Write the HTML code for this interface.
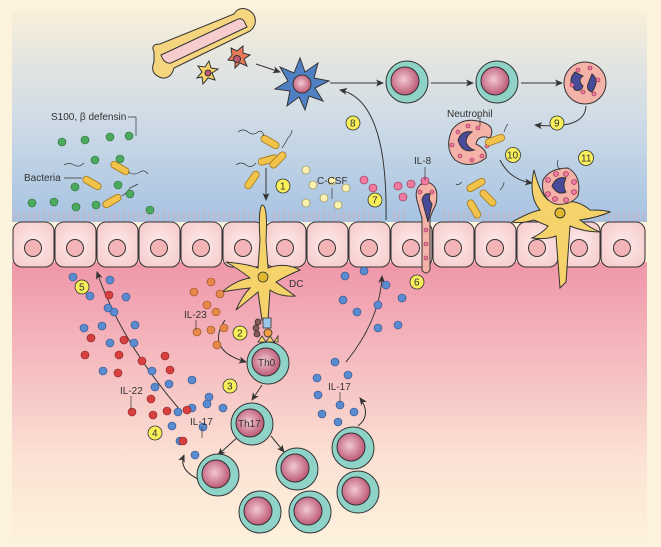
<!DOCTYPE html>
<html><head><meta charset="utf-8"><style>
html,body{margin:0;padding:0;background:#fdf3dc}
svg{display:block}
text{font-family:"Liberation Sans",Arial,sans-serif;font-size:10px;fill:#333}
</style></head><body>
<svg width="661" height="547" viewBox="0 0 661 547" xmlns="http://www.w3.org/2000/svg">
<defs>
<linearGradient id="top" x1="0" y1="0" x2="0" y2="1">
<stop offset="0" stop-color="#f9efd8"/><stop offset="0.2" stop-color="#e6e6e0"/><stop offset="0.5" stop-color="#d0dce6"/><stop offset="1" stop-color="#a6c3e2"/></linearGradient>
<linearGradient id="bot" x1="0" y1="0" x2="0" y2="1">
<stop offset="0" stop-color="#ef96a8"/><stop offset="0.35" stop-color="#f5bcc0"/><stop offset="0.7" stop-color="#fbe2d4"/><stop offset="1" stop-color="#fdf3dc"/></linearGradient>
<radialGradient id="nuc" cx="0.45" cy="0.45" r="0.6"><stop offset="0" stop-color="#f2c8d4"/><stop offset="1" stop-color="#b8506e"/></radialGradient>
<radialGradient id="cellg" cx="0.5" cy="0.5" r="0.6"><stop offset="0" stop-color="#fdeceb"/><stop offset="1" stop-color="#f6cccc"/></radialGradient>
<marker id="ar" markerWidth="8" markerHeight="8" refX="7" refY="4" orient="auto" markerUnits="userSpaceOnUse"><path d="M0,0.5 L8,4 L0,7.5 L2,4Z" fill="#333"/></marker>
<g id="tc"><circle r="21" fill="#8fd3c8" stroke="#333" stroke-width="1"/><circle cx="-2" cy="-1" r="14" fill="url(#nuc)" stroke="#333" stroke-width="1"/></g>
<g id="bac"><rect x="-10" y="-3.5" width="20" height="7" rx="3.5" fill="#f2c34a" stroke="#a07820" stroke-width="0.8"/></g>
</defs>
<rect width="661" height="547" fill="#fdf3dc"/>
<rect x="12" y="12" width="635" height="210" fill="url(#top)"/>
<rect x="12" y="262" width="635" height="285" fill="url(#bot)"/>
<g stroke="#d9a6b0" stroke-width="0.7">
<path d="M14 222V210 M19 222V212 M24 222V210 M29 222V212 M34 222V210 M39 222V212 M44 222V210 M49 222V212 M54 222V210 M59 222V212 M64 222V210 M69 222V212 M74 222V210 M79 222V212 M84 222V210 M89 222V212 M94 222V210 M99 222V212 M104 222V210 M109 222V212 M114 222V210 M119 222V212 M124 222V210 M129 222V212 M134 222V210 M139 222V212 M144 222V210 M149 222V212 M154 222V210 M159 222V212 M164 222V210 M169 222V212 M174 222V210 M179 222V212 M184 222V210 M189 222V212 M194 222V210 M199 222V212 M204 222V210 M209 222V212 M214 222V210 M219 222V212 M224 222V210 M229 222V212 M234 222V210 M239 222V212 M244 222V210 M249 222V212 M254 222V210 M259 222V212 M274 222V210 M279 222V212 M284 222V210 M289 222V212 M294 222V210 M299 222V212 M304 222V210 M309 222V212 M314 222V210 M319 222V212 M324 222V210 M329 222V212 M334 222V210 M339 222V212 M344 222V210 M349 222V212 M354 222V210 M359 222V212 M364 222V210 M369 222V212 M374 222V210 M379 222V212 M394 222V210 M399 222V212 M404 222V210 M444 222V210 M449 222V212 M454 222V210 M459 222V212 M464 222V210 M469 222V212 M474 222V210 M479 222V212 M484 222V210 M489 222V212 M494 222V210 M499 222V212 M504 222V210 M509 222V212 M514 222V210 M519 222V212 M524 222V210 M529 222V212 M534 222V210 M589 222V210 M594 222V212 M599 222V210 M604 222V212 M609 222V210 M614 222V212 M619 222V210 M624 222V212 M629 222V210 M634 222V212 M639 222V210 M644 222V212"/>
</g>
<g stroke="#333" stroke-width="1">
<g fill="url(#cellg)">
<rect x="13" y="222" width="41" height="45" rx="9"/><rect x="55" y="222" width="41" height="45" rx="9"/><rect x="97" y="222" width="41" height="45" rx="9"/><rect x="139" y="222" width="41" height="45" rx="9"/><rect x="181" y="222" width="41" height="45" rx="9"/><rect x="223" y="222" width="41" height="45" rx="9"/><rect x="265" y="222" width="41" height="45" rx="9"/><rect x="307" y="222" width="41" height="45" rx="9"/><rect x="349" y="222" width="41" height="45" rx="9"/><rect x="391" y="222" width="41" height="45" rx="9"/><rect x="433" y="222" width="41" height="45" rx="9"/><rect x="475" y="222" width="41" height="45" rx="9"/><rect x="517" y="222" width="41" height="45" rx="9"/><rect x="559" y="222" width="41" height="45" rx="9"/><rect x="601" y="222" width="44" height="45" rx="9"/>
</g>
<g fill="#f3b4b6">
<circle cx="33" cy="248" r="8.5"/><circle cx="75" cy="248" r="8.5"/><circle cx="117" cy="248" r="8.5"/><circle cx="159" cy="248" r="8.5"/><circle cx="201" cy="248" r="8.5"/><circle cx="243" cy="248" r="8.5"/><circle cx="285" cy="248" r="8.5"/><circle cx="327" cy="248" r="8.5"/><circle cx="369" cy="248" r="8.5"/><circle cx="411" cy="248" r="8.5"/><circle cx="453" cy="248" r="8.5"/><circle cx="495" cy="248" r="8.5"/><circle cx="537" cy="248" r="8.5"/><circle cx="579" cy="248" r="8.5"/><circle cx="622" cy="248" r="8.5"/>
</g>
</g>
<g stroke="#333" stroke-width="1">
<path d="M154 52 Q150 44 160 44 L234 14 Q238 7 246 9 Q257 13 255 24 Q253 30 248 32 L174 68 Q171 79 162 78 Q149 74 154 62Z" fill="#f5d580"/>
<path d="M161 55 L236 20 Q241 17 244 21 L247 27 L171 63 Q164 64 161 55Z" fill="#f7cccc"/>
<path d="M197 78 l5 -6 l-4 -6 l7 1 l4 -6 l2 7 l7 1 l-6 4 l3 7 l-7 -2 l-5 6 l-1 -7 z" fill="#f5d36a"/>
<circle cx="208" cy="73" r="3" fill="#c05a74"/>
<path d="M228 60 l4 -5 l-1 -7 l6 3 l6 -5 l0 7 l7 2 l-6 4 l3 7 l-7 -3 l-5 5 l0 -7 z" fill="#e87a5a"/>
<circle cx="237" cy="59" r="3.5" fill="#c05a74"/>
<path d="M300 58 l5 14 l13 -9 l-4 15 l15 3 l-14 7 l8 13 l-14 -5 l-4 14 l-6 -13 l-12 9 l3 -15 l-15 -2 l13 -8 l-8 -14 l14 6z" fill="#4f80c4"/>
<circle cx="302" cy="84" r="9" fill="url(#nuc)"/>
</g>
<g fill="none" stroke="#333" stroke-width="1" marker-end="url(#ar)">
<path d="M256 64 L280 72"/>
<path d="M330 83 L383 83"/>
<path d="M431 83 L473 83"/>
<path d="M521 83 L562 83"/>
<path d="M586 106 Q585 130 535 125"/>
<path d="M500 160 Q510 180 532 183"/>
<path d="M386 220 Q388 100 340 90"/>
<path d="M266 168 L266 200"/>
<path d="M225 320 Q205 350 246 362"/>
<path d="M262 385 L252 400"/>
<path d="M240 435 L218 455"/>
<path d="M271 436 L284 452"/>
<path d="M200 480 Q178 470 184 455"/>
<path d="M358 426 Q372 415 360 398"/>
<path d="M180 410 Q120 340 97 272"/>
<path d="M346 362 Q380 320 382 276"/>
</g>
<path d="M262 205 Q268 205 266 240 L268 268 Q285 262 300 270 Q286 276 276 282 L295 296 Q280 297 270 290 L268 320 L262 320 L258 292 Q246 302 236 310 Q242 296 250 288 Q232 290 222 292 Q236 280 250 278 Q240 270 226 262 Q248 264 258 268 L260 240 Q258 210 262 205Z" fill="#f5d36a" stroke="#333" stroke-width="1"/>
<circle cx="263" cy="277" r="5" fill="#e0b830" stroke="#333" stroke-width="0.8"/>
<text x="289" y="287">DC</text>
<g stroke="#333" stroke-width="0.8"><rect x="263" y="318" width="8" height="10" fill="#9ac8e8"/><circle cx="258" cy="322" r="3" fill="#8a5a5a"/><circle cx="256" cy="328" r="3" fill="#8a5a5a"/><circle cx="257" cy="334" r="3" fill="#8a5a5a"/><circle cx="268" cy="333" r="4" fill="#f0a040"/><path d="M258 342 l4 -6 l4 6 l4 -6 l4 6 l4 -6 v6z" fill="#f5d36a"/></g>
<g transform="translate(268,363)"><use href="#tc"/><text x="-10" y="3">Th0</text></g>
<g transform="translate(252,424)"><use href="#tc"/><text x="-14" y="3">Th17</text></g>
<use href="#tc" transform="translate(218,475)"/>
<use href="#tc" transform="translate(297,469)"/>
<use href="#tc" transform="translate(260,512)"/>
<use href="#tc" transform="translate(310,512)"/>
<use href="#tc" transform="translate(353,448)"/>
<use href="#tc" transform="translate(358,492)"/>
<use href="#tc" transform="translate(407,82)"/>
<use href="#tc" transform="translate(497,82)"/>
<g stroke="#333" stroke-width="1">
<circle cx="585" cy="83" r="21" fill="#f4b2a8"/>
<path d="M575 72 q-8 8 0 18 q6 2 8 -4 q-6 -6 0 -10z M592 74 q8 6 0 18 q-6 -2 -4 -8z" fill="#4a4a9a"/>
<path d="M452 130 Q462 116 482 122 Q496 126 490 138 Q478 134 476 144 Q488 150 486 158 Q470 170 455 160 Q444 148 452 130Z" fill="#f4b2a8"/>
<path d="M458 140 q4 -10 14 -8 q-6 4 -6 10 q2 6 8 8 q-12 4 -16 -10z" fill="#4a4a9a"/>
<path d="M418 204 Q412 186 426 182 Q440 184 436 204 Q432 212 430 218 L430 270 Q426 276 422 270 L422 218 Q420 212 418 204Z" fill="#f4b2a8"/>
<path d="M422 200 q2 -8 8 -6 q-2 6 2 10 l-4 18 z" fill="#4a4a9a"/>
<path d="M534 220 Q520 224 512 222 Q530 212 540 210 Q528 196 534 170 Q540 194 548 200 Q546 180 556 170 Q570 168 576 176 Q574 198 566 202 Q578 200 590 210 Q604 210 610 212 Q596 218 580 220 Q590 228 600 232 Q584 232 570 226 L566 282 L560 288 L556 236 Q546 240 532 238 Q544 232 548 226Z" fill="#f5d36a"/>
<path d="M543 180 Q550 168 568 168 Q582 176 578 196 Q570 206 555 204 Q540 198 543 180Z" fill="#f4b2a8"/>
<path d="M552 186 q4 -10 14 -8 q-4 8 0 14 q-8 4 -14 -6z" fill="#4a4a9a"/>
<circle cx="560" cy="213" r="5" fill="#e0b830"/>
</g>
<g fill="#f07aa0" stroke="#8a2a4a" stroke-width="0.6">
<circle cx="578" cy="70" r="2"/><circle cx="590" cy="68" r="2"/><circle cx="598" cy="80" r="2"/><circle cx="583" cy="92" r="2"/><circle cx="572" cy="85" r="2"/><circle cx="594" cy="94" r="2"/>
<circle cx="458" cy="132" r="2"/><circle cx="468" cy="126" r="2"/><circle cx="478" cy="128" r="2"/><circle cx="452" cy="145" r="2"/><circle cx="460" cy="156" r="2"/><circle cx="472" cy="160" r="2"/><circle cx="482" cy="156" r="2"/><circle cx="487" cy="146" r="2"/>
<circle cx="420" cy="192" r="2"/><circle cx="432" cy="192" r="2"/><circle cx="426" cy="230" r="2"/><circle cx="426" cy="244" r="2"/><circle cx="426" cy="258" r="2"/>
<circle cx="548" cy="180" r="2.5"/><circle cx="556" cy="174" r="2.5"/><circle cx="566" cy="174" r="2.5"/><circle cx="574" cy="182" r="2.5"/><circle cx="574" cy="192" r="2.5"/><circle cx="566" cy="200" r="2.5"/><circle cx="548" cy="194" r="2.5"/><circle cx="555" cy="199" r="2.5"/>
<circle cx="398" cy="186" r="4"/><circle cx="411" cy="184" r="4"/><circle cx="403" cy="197" r="4"/><circle cx="373" cy="188" r="4"/><circle cx="364" cy="180" r="4"/><circle cx="425" cy="181" r="4"/>
</g>
<use href="#bac" transform="translate(270,142) rotate(30)"/>
<use href="#bac" transform="translate(268,160) rotate(-15)"/>
<use href="#bac" transform="translate(278,160) rotate(-45)"/>
<use href="#bac" transform="translate(252,180) rotate(-55)"/>
<use href="#bac" transform="translate(92,183) rotate(30)"/>
<use href="#bac" transform="translate(120,168) rotate(30)"/>
<use href="#bac" transform="translate(112,201) rotate(-30)"/>
<use href="#bac" transform="translate(476,185) rotate(-30)"/>
<use href="#bac" transform="translate(488,198) rotate(45)"/>
<use href="#bac" transform="translate(474,209) rotate(60)"/>
<use href="#bac" transform="translate(495,140) rotate(-20)"/>
<g fill="none" stroke="#333" stroke-width="0.7">
<path d="M238 132 q5 -4 10 0 q5 4 10 0 q4 -3 6 4"/><path d="M236 165 q5 -4 10 0 q5 4 10 -2"/><path d="M282 148 q4 -6 6 -10 q4 -4 4 -8"/>
<path d="M64 165 q5 -3 10 0 q5 3 10 -2"/><path d="M128 172 q6 4 12 0 q4 -3 8 2"/><path d="M122 196 q6 -4 8 -8 q4 -2 8 -4"/>
<path d="M462 182 q-4 4 -6 2"/><path d="M500 190 q4 -4 4 -8"/><path d="M504 132 q2 -6 4 -8"/><path d="M560 170 q-4 -4 -2 -10"/>
</g>
<g fill="#4caa5e" stroke="#2a6a3a" stroke-width="0.6">
<circle cx="62" cy="142" r="4"/><circle cx="85" cy="140" r="4"/><circle cx="110" cy="137" r="4"/><circle cx="129" cy="136" r="4"/>
<circle cx="95" cy="160" r="4"/><circle cx="120" cy="159" r="4"/><circle cx="75" cy="187" r="4"/><circle cx="96" cy="205" r="4"/><circle cx="118" cy="185" r="4"/><circle cx="130" cy="194" r="4"/><circle cx="150" cy="210" r="4"/><circle cx="32" cy="203" r="4"/><circle cx="54" cy="202" r="4"/><circle cx="76" cy="207" r="4"/>
</g>
<g fill="#fbf1b0" stroke="#8a7a40" stroke-width="0.6">
<circle cx="306" cy="170" r="4"/><circle cx="313" cy="185" r="4"/><circle cx="332" cy="181" r="4"/><circle cx="346" cy="188" r="4"/><circle cx="306" cy="203" r="4"/><circle cx="324" cy="198" r="4"/><circle cx="338" cy="205" r="4"/>
</g>
<g fill="#e8874a" stroke="#8a4a20" stroke-width="0.6">
<circle cx="211" cy="282" r="4"/><circle cx="220" cy="294" r="4"/><circle cx="194" cy="292" r="4"/><circle cx="207" cy="305" r="4"/><circle cx="216" cy="312" r="4"/><circle cx="197" cy="332" r="4"/><circle cx="211" cy="330" r="4"/><circle cx="217" cy="345" r="4"/><circle cx="224" cy="328" r="4"/>
</g>
<g fill="#5a8ad0" stroke="#2a4a80" stroke-width="0.6">
<circle cx="73" cy="277" r="4"/><circle cx="110" cy="280" r="4"/><circle cx="126" cy="297" r="4"/><circle cx="90" cy="296" r="4"/><circle cx="114" cy="312" r="4"/><circle cx="84" cy="328" r="4"/><circle cx="102" cy="326" r="4"/><circle cx="135" cy="325" r="4"/><circle cx="110" cy="343" r="4"/><circle cx="108" cy="308" r="4"/><circle cx="103" cy="371" r="4"/><circle cx="134" cy="343" r="4"/><circle cx="152" cy="371" r="4"/><circle cx="155" cy="387" r="4"/><circle cx="169" cy="384" r="4"/><circle cx="192" cy="380" r="4"/><circle cx="209" cy="397" r="4"/><circle cx="178" cy="412" r="4"/><circle cx="192" cy="408" r="4"/><circle cx="172" cy="426" r="4"/><circle cx="203" cy="427" r="4"/><circle cx="180" cy="441" r="4"/><circle cx="195" cy="455" r="4"/><circle cx="207" cy="404" r="4"/><circle cx="223" cy="408" r="4"/><circle cx="229" cy="388" r="4"/>
<circle cx="345" cy="276" r="4"/><circle cx="364" cy="271" r="4"/><circle cx="386" cy="285" r="4"/><circle cx="378" cy="305" r="4"/><circle cx="357" cy="312" r="4"/><circle cx="343" cy="300" r="4"/><circle cx="402" cy="298" r="4"/><circle cx="378" cy="328" r="4"/><circle cx="398" cy="325" r="4"/>
<circle cx="317" cy="378" r="4"/><circle cx="335" cy="362" r="4"/><circle cx="348" cy="375" r="4"/><circle cx="318" cy="395" r="4"/><circle cx="340" cy="405" r="4"/><circle cx="322" cy="414" r="4"/><circle cx="354" cy="412" r="4"/><circle cx="338" cy="422" r="4"/>
</g>
<g fill="#d84040" stroke="#802020" stroke-width="0.6">
<circle cx="109" cy="295" r="4"/><circle cx="124" cy="340" r="4"/><circle cx="119" cy="355" r="4"/><circle cx="91" cy="338" r="4"/><circle cx="85" cy="355" r="4"/><circle cx="142" cy="361" r="4"/><circle cx="165" cy="356" r="4"/><circle cx="118" cy="373" r="4"/><circle cx="170" cy="370" r="4"/><circle cx="151" cy="399" r="4"/><circle cx="132" cy="412" r="4"/><circle cx="153" cy="415" r="4"/><circle cx="187" cy="410" r="4"/><circle cx="183" cy="441" r="4"/><circle cx="167" cy="411" r="4"/>
</g>
<g fill="none" stroke="#333" stroke-width="0.7">
<path d="M128 117 H136 V136"/><path d="M64 178 H82"/><path d="M332 188 V199"/><path d="M425 167 V180"/><path d="M480 118 V126"/><path d="M196 320 V330"/><path d="M131 396 V410"/><path d="M202 427 V438"/><path d="M340 392 V402"/>
</g>
<text x="51" y="120">S100, β defensin</text>
<text x="24" y="181">Bacteria</text>
<text x="317" y="184">C-CSF</text>
<text x="414" y="164">IL-8</text>
<text x="447" y="117">Neutrophil</text>
<text x="184" y="318">IL-23</text>
<text x="120" y="394">IL-22</text>
<text x="190" y="425">IL-17</text>
<text x="328" y="390">IL-17</text>
<g font-size="9">
<g fill="#f8ef5a" stroke="#333" stroke-width="0.8">
<circle cx="283" cy="186" r="7"/><circle cx="240" cy="333" r="7"/><circle cx="230" cy="386" r="7"/><circle cx="155" cy="433" r="7"/><circle cx="82" cy="287" r="7"/><circle cx="417" cy="282" r="7"/><circle cx="375" cy="200" r="7"/><circle cx="353" cy="123" r="7"/><circle cx="557" cy="123" r="7"/><circle cx="513" cy="155" r="7.5"/><circle cx="586" cy="158" r="7.5"/>
</g>
<text x="280" y="189.5" font-size="9">1</text><text x="237" y="336.5" font-size="9">2</text><text x="227" y="389.5" font-size="9">3</text><text x="152" y="436.5" font-size="9">4</text><text x="79" y="290.5" font-size="9">5</text><text x="414" y="285.5" font-size="9">6</text><text x="372" y="203.5" font-size="9">7</text><text x="350" y="126.5" font-size="9">8</text><text x="554" y="126.5" font-size="9">9</text><text x="507" y="158.5" font-size="9">10</text><text x="581" y="161.5" font-size="9">11</text>
</g>
</svg>
</body></html>
